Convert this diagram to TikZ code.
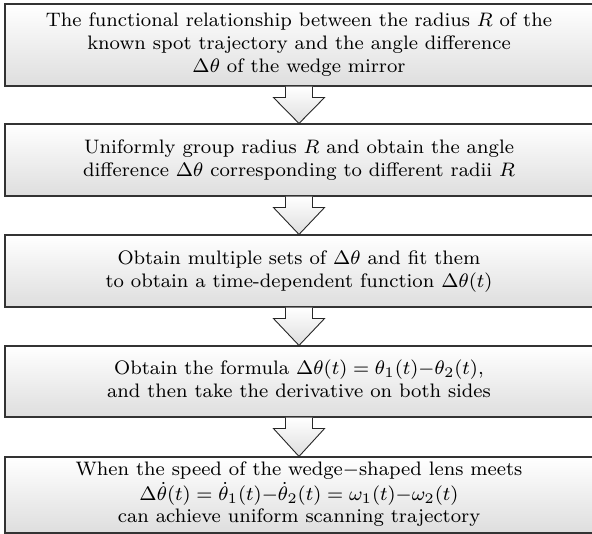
\documentclass[tikz,border=0pt]{standalone}
\usepackage{graphicx}
\usetikzlibrary{calc}
\newcommand{\flowtxt}[2][1]{\scalebox{2.44}{\footnotesize\renewcommand{\arraystretch}{#1}\begin{tabular}{@{}c@{}}#2\end{tabular}}}
\tikzset{
  stepbox/.style={draw=black!80, line width=1.1pt, top color=white, middle color=white, bottom color=black!13,
    minimum width=588pt, inner sep=0pt, align=center},
  flowarrow/.style={draw=black!85, line width=0.9pt, top color=white, bottom color=black!13, line join=miter}
}
\begin{document}
\begin{tikzpicture}[x=1pt,y=-1pt]
\useasboundingbox (0,0) rectangle (592,534);
\node[stepbox, minimum height=82pt] (b1) at (299,45) {\flowtxt{The functional relationship between the radius $R$ of the\\known spot trajectory and the angle difference\\$\Delta\theta$ of the wedge mirror}};
\node[stepbox, minimum height=72pt] (b2) at (299,160) {\flowtxt{Uniformly group radius $R$ and obtain the angle\\difference $\Delta\theta$ corresponding to different radii $R$}};
\node[stepbox, minimum height=72pt] (b3) at (299,271) {\flowtxt{Obtain multiple sets of $\Delta\theta$ and fit them\\to obtain a time-dependent function $\Delta\theta(t)$}};
\node[stepbox, minimum height=71pt] (b4) at (299,381.5) {\flowtxt{Obtain the formula $\Delta\theta(t)=\theta_1(t){-}\theta_2(t)$,\\and then take the derivative on both sides}};
\node[stepbox, minimum height=76pt] (b5) at (299,495) {\flowtxt[0.95]{When the speed of the wedge$-$shaped lens meets\\$\Delta\dot{\theta}(t)=\dot{\theta}_1(t){-}\dot{\theta}_2(t)=\omega_1(t){-}\omega_2(t)$\\can achieve uniform scanning trajectory}};
\foreach \a/\b in {b1/b2,b2/b3,b3/b4,b4/b5}{
  \draw[flowarrow] ($(\a.south)+(-13.5,0)$) -- ($(\a.south)+(-13.5,11)$) -- ($(\a.south)+(-25.5,11)$)
    -- (\b.north) -- ($(\a.south)+(25.5,11)$) -- ($(\a.south)+(13.5,11)$) -- ($(\a.south)+(13.5,0)$);
}
\end{tikzpicture}
\end{document}
